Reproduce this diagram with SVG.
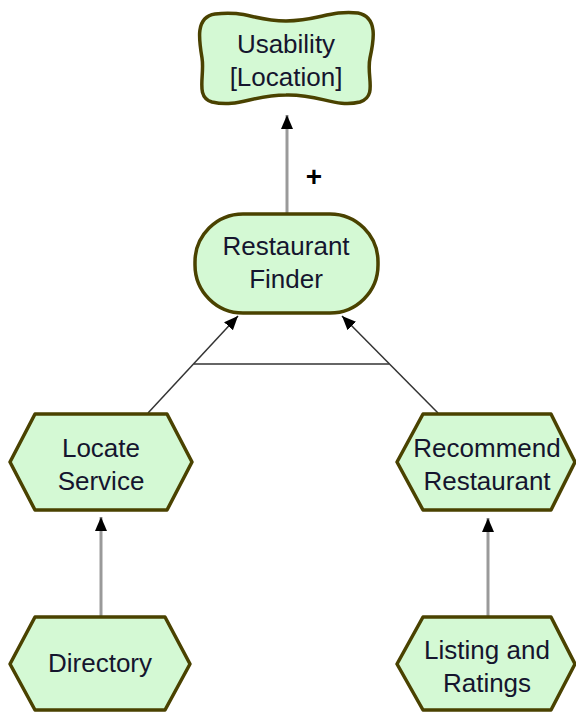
<svg xmlns="http://www.w3.org/2000/svg" width="576" height="715" viewBox="0 0 576 715">
<style>
.node{fill:#d4f9d4;stroke:#4a4200;stroke-width:3.5;stroke-linejoin:round}
.lbl{font-family:"Liberation Sans",Arial,sans-serif;font-size:26px;fill:#15152e;text-anchor:middle}
.grey{stroke:#9a9a9a;stroke-width:3;fill:none}
.dark{stroke:#333;stroke-width:1.5;fill:none}
</style>
<defs>
<marker id="ah" markerUnits="userSpaceOnUse" markerWidth="14" markerHeight="14" refX="14" refY="6" orient="auto" viewBox="0 0 14 12">
<path d="M0,0 L14,6 L0,12 Z" fill="#000"/>
</marker>
</defs>
<rect width="576" height="715" fill="#fff"/>
<g id="connectors">
<line class="grey" x1="287" y1="214" x2="287" y2="115" marker-end="url(#ah)"/>
<line class="dark" x1="148" y1="413" x2="238" y2="316" marker-end="url(#ah)"/>
<line class="dark" x1="438" y1="413" x2="342" y2="316" marker-end="url(#ah)"/>
<line class="dark" x1="194" y1="364" x2="389" y2="364"/>
<line class="grey" x1="101" y1="617" x2="101" y2="517" marker-end="url(#ah)"/>
<line class="grey" x1="488" y1="617" x2="488" y2="518" marker-end="url(#ah)"/>
<text x="314" y="186" font-family="Liberation Sans,Arial,sans-serif" font-size="28" font-weight="bold" text-anchor="middle" fill="#000">+</text>
</g>
<g id="usability">
<path class="node" stroke-width="4" d="M215,14 C245,10 255,21 286,21 C318,21 330,10 358,13 C378,17 374,40 370,58 C366,76 378,96 360,102 C335,108 320,94 286,95 C252,95 238,108 212,102 C195,97 205,76 202,58 C199,40 195,17 215,14 Z"/>
<text class="lbl" x="286" y="53">Usability</text>
<text class="lbl" x="286" y="86">[Location]</text>
</g>
<g id="restaurant-finder">
<rect class="node" stroke-width="4" x="195" y="214" width="183" height="99" rx="48" ry="48"/>
<text class="lbl" x="286" y="255">Restaurant</text>
<text class="lbl" x="286" y="288">Finder</text>
</g>
<g id="locate-service">
<polygon class="node" points="10,462 35,414 167,414 192,462 167,510 35,510"/>
<text class="lbl" x="101" y="457">Locate</text>
<text class="lbl" x="101" y="490">Service</text>
</g>
<g id="recommend-restaurant">
<polygon class="node" points="397,462 423,414 551,414 575,462 551,510 423,510"/>
<text class="lbl" x="487" y="457">Recommend</text>
<text class="lbl" x="487" y="490">Restaurant</text>
</g>
<g id="directory">
<polygon class="node" points="10,664 35,617 165,617 190,664 165,710 35,710"/>
<text class="lbl" x="100" y="672">Directory</text>
</g>
<g id="listing-ratings">
<polygon class="node" points="397,664 423,617 551,617 575,664 551,710 423,710"/>
<text class="lbl" x="487" y="659">Listing and</text>
<text class="lbl" x="487" y="692">Ratings</text>
</g>
</svg>
